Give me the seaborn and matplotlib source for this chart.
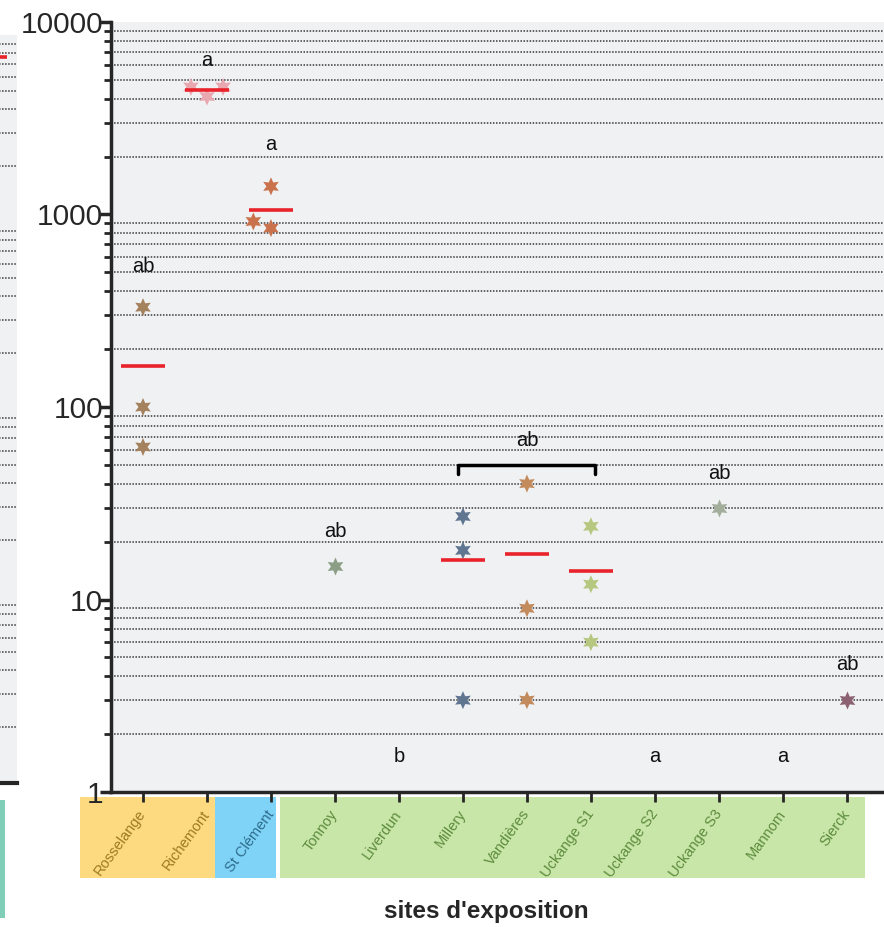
import pandas as pd
import seaborn as sns
import matplotlib.pyplot as plt
from matplotlib.patches import Rectangle
from matplotlib.ticker import LogLocator, NullFormatter

# sites (x categories)
sites = ["Rosselange", "Richemont", "St Clément", "Tonnoy", "Liverdun", "Millery",
         "Vandières", "Uckange S1", "Uckange S2", "Uckange S3", "Mannom", "Sierck"]

# measured values per site
rosselange = [330, 100, 62]
richemont = [4600, 4100, 4600]
st_clement = [1400, 850, 920]
tonnoy = [15]
millery = [27, 18, 3]
vandieres = [40, 9, 3]
uckange_s1 = [24, 12, 6]
uckange_s3 = [30]
sierck = [3]

# mean shown in the cropped neighbouring panel
left_panel_mean = 7600

star_colors = {
    "Rosselange": "#a5825e", "Richemont": "#e9a7b0", "St Clément": "#c9724b",
    "Tonnoy": "#8c9f86", "Millery": "#5f7590", "Vandières": "#c38a5c",
    "Uckange S1": "#b6c77f", "Uckange S3": "#a2ad9b", "Sierck": "#8c6272",
}

# statistical letters: (site, text, height)
letters = [("Rosselange", "ab", 540), ("Richemont", "a", 6300), ("St Clément", "a", 2300),
           ("Tonnoy", "ab", 22.5), ("Liverdun", "b", 1.52), ("Vandières", "ab", 67),
           ("Uckange S2", "a", 1.52), ("Uckange S3", "ab", 45), ("Mannom", "a", 1.52),
           ("Sierck", "ab", 4.6)]

values = {"Rosselange": rosselange, "Richemont": richemont, "St Clément": st_clement,
          "Tonnoy": tonnoy, "Millery": millery, "Vandières": vandieres,
          "Uckange S1": uckange_s1, "Uckange S3": uckange_s3, "Sierck": sierck}
df = pd.DataFrame([(s, v) for s, vals in values.items() for v in vals], columns=["site", "value"])

sns.set_style("ticks")
plt.rcParams['font.family'] = ['Liberation Sans', 'DejaVu Sans']

fig = plt.figure(figsize=(8.84, 9.27), dpi=100)
bg = '#f0f1f3'
grid_kw = dict(which='minor', axis='y', linestyle=(0, (1, 1)), color='#3a3a3a', linewidth=1.1)

# cropped neighbouring panel on the far left
ax0 = fig.add_axes([-0.2, 0.1553, 0.2192, 0.8069])
ax0.set_facecolor(bg)
ax0.set_yscale('log')
ax0.set_ylim(1, 10000)
ax0.set_xlim(-2.52, 0.506)
ax0.yaxis.set_minor_locator(LogLocator(base=10, subs=range(2, 10)))
ax0.grid(**grid_kw)
ax0.tick_params(which='both', left=False, bottom=False, labelleft=False, labelbottom=False)
for s in ['top', 'right', 'left']:
    ax0.spines[s].set_visible(False)
ax0.spines['bottom'].set_linewidth(3)
ax0.hlines(left_panel_mean, -0.35, 0.35, color='#e8232b', lw=2.6, zorder=3)
fig.add_artist(Rectangle((0, 9 / 927), 5 / 884, 118 / 927, transform=fig.transFigure,
                         facecolor='#80cdb8', edgecolor='none'))

# main panel
ax = fig.add_axes([0.12557, 0.14563, 0.87443, 0.83064])
ax.set_facecolor(bg)
ax.set_yscale('log')
ax.set_ylim(1, 10000)

sns.swarmplot(data=df, x='site', y='value', hue='site', order=sites, palette=star_colors,
              marker=(6, 1, 0), size=13, linewidth=0, legend=False, ax=ax)

ax.set_xlim(-0.5, 11.58)
ax.set_ylim(1, 10000)

# red mean lines for sites with several samples
stats = df.groupby('site')['value'].agg(['mean', 'count'])
for site, row in stats.iterrows():
    if row['count'] > 1:
        i = sites.index(site)
        ax.hlines(row['mean'], i - 0.35, i + 0.35, color='#e8232b', lw=2.6, zorder=3)

for site, txt, yv in letters:
    ax.text(sites.index(site), yv, txt, ha='center', va='center', fontsize=14.5, color='#111111')

# bracket Millery -> Uckange S1
b0, b1 = sites.index("Millery") - 0.07, sites.index("Uckange S1") + 0.07
ax.plot([b0, b0, b1, b1], [45, 50, 50, 45], color='black', lw=2.5, zorder=3)

# axes styling
ax.set_yticks([1, 10, 100, 1000, 10000], labels=['1', '10', '100', '1000', '10000'])
ax.yaxis.set_minor_locator(LogLocator(base=10, subs=range(2, 10)))
ax.yaxis.set_minor_formatter(NullFormatter())
ax.grid(False)
ax.grid(**grid_kw)
ax.tick_params(axis='y', which='major', length=8, width=2.5, labelsize=21.5, pad=-2.5)
ax.tick_params(axis='y', which='minor', length=5, width=2)
ax.tick_params(axis='x', length=7, width=2, labelsize=10.5, pad=7)
for s in ['top', 'right']:
    ax.spines[s].set_visible(False)
for s in ['left', 'bottom']:
    ax.spines[s].set_linewidth(2.5)
ax.set_ylabel('')

# coloured site groups under the axis
groups = [(-0.984, 1.125, '#fdd97f', '#9c7b22', sites[:2]),
          (1.125, 2.078, '#7ed3f7', '#2e6c8c', sites[2:3]),
          (2.14, 11.28, '#c8e6a8', '#5d8b3d', sites[3:])]
for x0, x1, fc, tc, members in groups:
    ax.add_patch(Rectangle((x0, -0.1117), x1 - x0, 0.1052, transform=ax.get_xaxis_transform(),
                           facecolor=fc, edgecolor='none', clip_on=False, zorder=0))
    for lab in ax.get_xticklabels():
        if lab.get_text() in members:
            lab.set_color(tc)
plt.setp(ax.get_xticklabels(), rotation=54, ha='right', va='center', rotation_mode='anchor')

ax.set_xlabel("sites d'exposition", fontsize=17.5, fontweight='bold')
ax.xaxis.set_label_coords(0.486, -0.14)

fig.savefig('out.png', dpi=100)
